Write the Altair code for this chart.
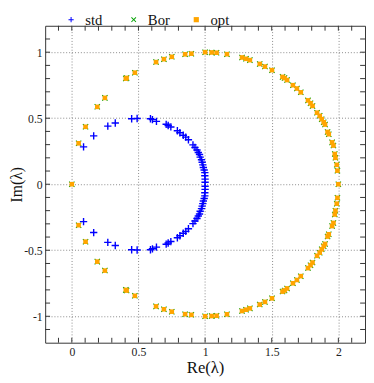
import altair as alt
import pandas as pd

# ---- data ----
series_names = ["std", "Bor", "opt"]
series_colors = ["#0000FF", "#00A000", "#FFA500"]

std_re = [0.088, 0.164, 0.270, 0.326, 0.449, 0.490, 0.590, 0.605, 0.635, 0.708, 0.723, 0.743,
          0.792, 0.811, 0.836, 0.855, 0.875, 0.909, 0.924, 0.939, 0.949, 0.958, 0.963, 0.973,
          0.978, 0.983, 0.987, 0.993, 0.998, 0.998, 1.000, 1.000,
          1.000, 1.000, 0.998, 0.998, 0.993, 0.987, 0.983, 0.978, 0.973, 0.963, 0.958, 0.949,
          0.939, 0.924, 0.909, 0.875, 0.855, 0.836, 0.811, 0.792, 0.743, 0.723, 0.708, 0.635,
          0.605, 0.590, 0.490, 0.449, 0.326, 0.270, 0.164, 0.088]
std_im = [0.283, 0.366, 0.440, 0.464, 0.496, 0.498, 0.496, 0.489, 0.476, 0.454, 0.445, 0.434,
          0.405, 0.390, 0.371, 0.357, 0.337, 0.298, 0.278, 0.259, 0.240, 0.225, 0.205, 0.185,
          0.166, 0.147, 0.127, 0.108, 0.088, 0.064, 0.039, 0.015,
          -0.015, -0.039, -0.064, -0.088, -0.108, -0.127, -0.147, -0.166, -0.185, -0.205, -0.225, -0.240,
          -0.259, -0.278, -0.298, -0.337, -0.357, -0.371, -0.390, -0.405, -0.434, -0.445, -0.454, -0.476,
          -0.489, -0.496, -0.498, -0.496, -0.464, -0.440, -0.366, -0.283]

opt_re = [0.000,
          0.051, 0.103, 0.191, 0.248, 0.405, 0.411, 0.473, 0.632, 0.691, 0.750, 0.850, 0.897,
          1.000, 1.049, 1.086, 1.164, 1.277, 1.307, 1.336, 1.410, 1.449, 1.502, 1.581, 1.596,
          1.615, 1.659, 1.689, 1.718, 1.772, 1.791, 1.806, 1.840, 1.860, 1.875, 1.890, 1.900,
          1.919, 1.928, 1.953, 1.963, 1.973, 1.978, 1.988, 1.993,
          2.000,
          1.993, 1.988, 1.978, 1.973, 1.963, 1.953, 1.928, 1.919, 1.900, 1.890, 1.875, 1.860,
          1.840, 1.806, 1.791, 1.772, 1.718, 1.689, 1.659, 1.615, 1.596, 1.581, 1.502, 1.449,
          1.410, 1.336, 1.307, 1.277, 1.164, 1.086, 1.049, 1.000, 0.897, 0.850, 0.750, 0.691,
          0.632, 0.473, 0.411, 0.405, 0.248, 0.191, 0.103, 0.051]
opt_im = [0.000,
          0.310, 0.435, 0.586, 0.654, 0.800, 0.805, 0.845, 0.925, 0.947, 0.965, 0.984, 0.989,
          1.000, 0.998, 0.996, 0.985, 0.960, 0.950, 0.940, 0.911, 0.891, 0.864, 0.813, 0.804,
          0.789, 0.750, 0.725, 0.696, 0.635, 0.613, 0.593, 0.542, 0.518, 0.493, 0.469, 0.452,
          0.396, 0.379, 0.317, 0.293, 0.229, 0.200, 0.147, 0.103,
          0.000,
          -0.103, -0.147, -0.200, -0.229, -0.293, -0.317, -0.379, -0.396, -0.452, -0.469, -0.493, -0.518,
          -0.542, -0.593, -0.613, -0.635, -0.696, -0.725, -0.750, -0.789, -0.804, -0.813, -0.864, -0.891,
          -0.911, -0.940, -0.950, -0.960, -0.985, -0.996, -0.998, -1.000, -0.989, -0.984, -0.965, -0.947,
          -0.925, -0.845, -0.805, -0.800, -0.654, -0.586, -0.435, -0.310]

# Bor eigenvalues coincide with opt in the picture
bor_re = list(opt_re)
bor_im = list(opt_im)

x_major = [0, 0.5, 1, 1.5, 2]
y_major = [-1, -0.5, 0, 0.5, 1]
x_minor = [-0.1, 0.0, 0.1, 0.2, 0.3, 0.4, 0.5, 0.6, 0.7, 0.8, 0.9, 1.0, 1.1, 1.2, 1.3, 1.4,
           1.5, 1.6, 1.7, 1.8, 1.9, 2.0, 2.1]
y_minor = [-1.1, -1.0, -0.9, -0.8, -0.7, -0.6, -0.5, -0.4, -0.3, -0.2, -0.1, 0.0, 0.1, 0.2,
           0.3, 0.4, 0.5, 0.6, 0.7, 0.8, 0.9, 1.0, 1.1]

W, H = 327, 324
FRAME = "#333333"
FONT = "Liberation Serif"

xscale = alt.Scale(domain=[-0.2, 2.2], nice=False, zero=False)
yscale = alt.Scale(domain=[-1.2, 1.2], nice=False, zero=False)
xaxis = alt.Axis(values=x_major, labelExpr="toString(datum.value)", title="Re(λ)",
                 labelFont=FONT, labelFontSize=12, labelPadding=4,
                 titleFont=FONT, titleFontSize=17, titlePadding=2)
yaxis = alt.Axis(values=y_major, labelExpr="toString(datum.value)", title="Im(λ)",
                 labelFont=FONT, labelFontSize=12, labelPadding=3,
                 titleFont=FONT, titleFontSize=16,
                 titleX=-29, titleY=H / 2, titleAlign="center",
                 titleBaseline="middle", titleAngle=270)

plus_path = "M-1,-0.19L1,-0.19L1,0.19L-1,0.19Z M-0.19,-1L0.19,-1L0.19,1L-0.19,1Z"
x_path = "M-1,-0.75L-0.75,-1L0,-0.25L0.75,-1L1,-0.75L0.25,0L1,0.75L0.75,1L0,0.25L-0.75,1L-1,0.75L-0.25,0Z"
shapes = [plus_path, x_path, "square"]
sizes = [56, 38, 22]

color_enc = alt.Color("series:N", scale=alt.Scale(domain=series_names, range=series_colors),
                      legend=alt.Legend(title=None, orient="none", legendX=19, legendY=-14,
                                        direction="horizontal", columns=3, gridAlign="all",
                                        columnPadding=19, labelOffset=7, padding=0,
                                        symbolSize=28, symbolStrokeWidth=0,
                                        labelFont=FONT, labelFontSize=15, labelColor="#111"))
shape_enc = alt.Shape("series:N", scale=alt.Scale(domain=series_names, range=shapes))

layers = []
for name, re, im, sz in [("std", std_re, std_im, sizes[0]),
                         ("Bor", bor_re, bor_im, sizes[1]),
                         ("opt", opt_re, opt_im, sizes[2])]:
    df = pd.DataFrame({"re": re, "im": im, "series": name})
    layers.append(
        alt.Chart(df).mark_point(filled=True, opacity=1, strokeWidth=0, size=sz).encode(
            x=alt.X("re:Q", scale=xscale, axis=xaxis),
            y=alt.Y("im:Q", scale=yscale, axis=yaxis),
            color=color_enc,
            shape=shape_enc,
        )
    )

xt = pd.DataFrame({"t": x_minor})
yt = pd.DataFrame({"t": y_minor})

def xrule(y0, y1):
    return alt.Chart(xt).mark_rule(color=FRAME, strokeWidth=1).encode(
        x=alt.X("t:Q", scale=xscale, axis=xaxis), y=alt.value(y0), y2=alt.value(y1))

def yrule(x0, x1):
    return alt.Chart(yt).mark_rule(color=FRAME, strokeWidth=1).encode(
        y=alt.Y("t:Q", scale=yscale, axis=yaxis), x=alt.value(x0), x2=alt.value(x1))

chart = alt.layer(
    xrule(H, H - 5), xrule(0, 5), yrule(0, 5), yrule(W, W - 5), *layers
).properties(
    width=W, height=H,
    autosize=alt.AutoSizeParams(type="none"),
    padding={"left": 38, "top": 14, "right": 1, "bottom": 36},
).configure(
    font=FONT
).configure_view(
    stroke=FRAME, strokeWidth=1
).configure_axis(
    grid=True, gridColor="#888888", gridDash=[1, 2], gridWidth=1, gridOpacity=1,
    ticks=False, domain=False,
    labelFont=FONT, labelFontSize=12, labelColor="#222",
    titleFont=FONT, titleFontSize=18, titleFontWeight="normal", titleColor="#111",
)

chart.save("out.html", embed_options={"renderer": "svg", "actions": False})
